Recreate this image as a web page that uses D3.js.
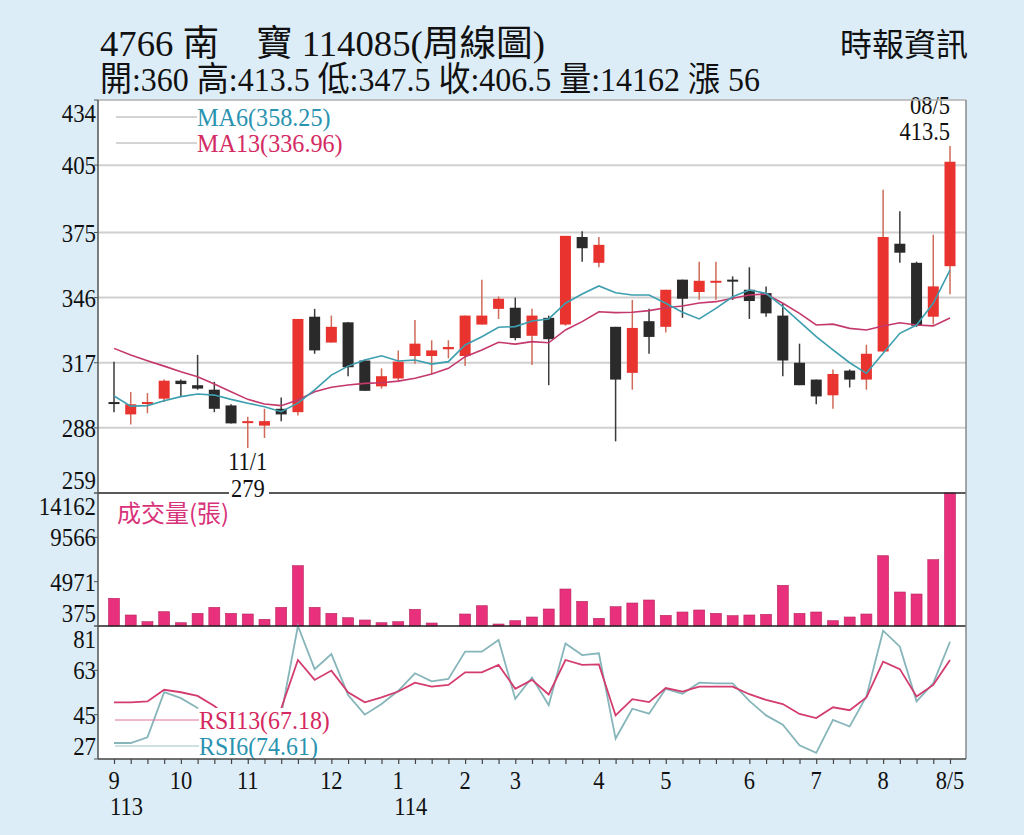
<!DOCTYPE html>
<html>
<head>
<meta charset="utf-8">
<script src="https://cdn.jsdelivr.net/npm/d3@7"></script>
<style>
body { margin: 0; background: #dcedf8; }
svg { display: block; }
text { font-family: "Liberation Serif", "Noto Sans CJK TC", serif; }
</style>
</head>
<body>
<div class="chart"></div>
<script>
// weekly bars, 113/9 .. 114/8/5
const opens  = [299.5, 294, 299, 301, 309, 307, 305, 298, 290.5, 289, 296.5, 295, 337.5, 326, 335, 318, 306.5, 310, 320, 320,
                323, 320, 334, 341, 341.5, 329, 337, 334, 373, 361.5, 333, 312.5, 335.5, 333, 354, 348.5, 353, 354, 349.5, 348,
                338, 317, 309.5, 302.5, 313.5, 309.5, 322, 370, 361.5, 337.5, 360];
const highs  = [317.5, 304, 303.5, 309.5, 309.5, 320.5, 308.5, 298.5, 293, 296.5, 301.5, 336.5, 341, 338, 335, 318.5, 314.5, 322.5, 336, 327,
                327, 338, 354, 346.5, 346, 341, 338, 373.5, 375.5, 373, 333, 345, 341, 349.5, 354, 362, 362, 355.5, 359.5, 351,
                343.5, 325.5, 309.5, 314, 314, 325, 394, 384.5, 362, 374, 413.5];
const lows   = [295, 289.5, 294.5, 299.5, 302, 305, 295, 290, 279, 283.5, 291, 293.5, 321, 326, 311, 304.5, 305.5, 309, 316.5, 312,
                319, 315.5, 334, 336.5, 327, 316, 307, 333.5, 362, 359.5, 282, 305, 321, 330.5, 337, 345, 345, 345, 336.5, 337.5,
                311, 307, 298.5, 296.5, 306, 305, 322, 361.5, 333, 334, 347.5];
const closes = [299, 298.5, 299.5, 309, 307.5, 305.5, 296.5, 290, 291, 291, 294, 336.5, 322.5, 333, 315, 304.5, 311, 317.5, 325.5, 322.5,
                324, 338, 338, 345.5, 328, 338, 327.5, 373.5, 368, 369.5, 309.5, 332.5, 328.5, 349.5, 345.5, 353.5, 353.5, 353.5, 344.5, 339,
                318, 307, 302, 312, 309.5, 321, 373, 366, 333.5, 351, 406.5];
const volumes = [3246, 1515, 821, 1857, 717, 1691, 2313, 1691, 1619, 1070, 2313, 6626, 2313, 1691, 1235, 997, 717, 821, 2106, 686,
                 375, 1619, 2479, 582, 924, 1308, 2137, 4210, 2935, 1173, 2376, 2759, 3070, 1484, 1826, 2034, 1691, 1443, 1515, 1588,
                 4594, 1691, 1826, 924, 1308, 1619, 7662, 3899, 3692, 7248, 14162];
const ma6  = [302.2, 297.7, 297.9, 300.1, 301.9, 303.1, 302.6, 300.7, 299.0, 297.4, 295.2, 299.0, 304.9, 311.5, 315.5, 318.2, 320.1, 317.8, 318.2, 316.4,
              317.5, 324.9, 328.6, 332.8, 333.1, 335.6, 336.5, 343.5, 347.6, 351.2, 348.2, 347.2, 347.2, 343.5, 339.5, 336.5, 341.2, 346.4, 349.4, 347.9,
              342.0, 335.3, 328.6, 322.7, 317.0, 312.3, 321.2, 330.1, 333.8, 343.5, 358.25];
const ma13 = [323.4, 320.4, 317.9, 315.5, 313.0, 310.8, 307.5, 304.1, 300.7, 298.6, 297.9, 300.4, 304.1, 306.1, 307.1, 307.8, 308.1, 308.8, 310.1, 312.0,
              314.5, 319.7, 322.7, 326.1, 325.3, 326.4, 325.9, 331.6, 335.3, 339.7, 339.3, 339.5, 340.2, 341.5, 342.3, 343.6, 344.2, 345.7, 347.2, 347.6,
              343.5, 339.0, 333.8, 334.2, 332.3, 331.6, 333.4, 334.8, 333.8, 333.4, 336.96];
const rsi6  = [33.5, 33.5, 35.8, 54.1, 51.7, 47.7, 44, 33, 27, 31, 45, 81, 63.5, 69.6, 53.0, 45.0, 49.3, 54.7, 61.8, 58.5,
               59.5, 70.6, 70.6, 75.3, 51.4, 60.1, 48.8, 73.9, 69.2, 69.9, 35.3, 47.4, 45.4, 55.5, 53.5, 58.0, 57.7, 57.7, 50.6, 44.7,
               40.9, 32.6, 29.5, 42.9, 40.2, 52.4, 79.1, 72.6, 50.4, 57.8, 74.61];
const rsi13 = [50.0, 50.0, 50.4, 55.1, 54.1, 52.6, 48.5, 43, 40, 42, 47.5, 67.2, 59.1, 62.9, 54.1, 50.0, 52.0, 54.4, 58.0, 56.4,
               57.1, 62.2, 62.2, 65.2, 55.5, 59.1, 53.2, 67.2, 65.2, 65.4, 44.7, 51.3, 50.1, 55.8, 54.4, 56.4, 56.4, 56.4, 53.3, 51.0,
               49.3, 45.3, 43.6, 48.0, 46.8, 52.0, 66.5, 63.5, 52.4, 57.1, 67.18];

const monthIdx    = [0, 4, 8, 13, 17, 21, 24, 29, 33, 38, 42, 46, 50];
const monthLabels = ["9", "10", "11", "12", "1", "2", "3", "4", "5", "6", "7", "8", "8/5"];
const yearIdx     = [0, 17];
const yearLabels  = ["113", "114"];
const priceTicks = [434, 405, 375, 346, 317, 288, 259];
const volTicks   = [14162, 9566, 4971, 375];
const rsiTicks   = [81, 63, 45, 27];

const W = 1024, H = 835;
let frame = {left: 98, right: 966, top: 100, price: 493, vol: 626, bottom: 759};
let upColor = "#e8332e", downColor = "#2a2a2a";

let svg = d3.select(".chart").append("svg")
    .attr("width", W)
    .attr("height", H);

svg.append("rect").attr("width", W).attr("height", H).attr("fill", "#dcedf8");
svg.append("rect")
    .attr("x", frame.left).attr("y", frame.top)
    .attr("width", frame.right - frame.left)
    .attr("height", frame.bottom - frame.top)
    .attr("fill", "#fff");

const xScale = d3.scaleLinear().domain([0, closes.length - 1]).range([114, 950]);
const yPrice = d3.scaleLinear().domain([259, 434]).range([frame.price, frame.top]);
const yVol   = d3.scaleLinear().domain([375, 14162]).range([frame.vol, frame.price]);
const yRsi   = d3.scaleLinear().domain([27, 81]).range([frame.bottom, frame.vol]);

// narrow serif look: scale glyphs horizontally around the anchor
function ntext(parent, x, y, str, size, sx, anchor) {
    return parent.append("text")
        .attr("transform", `translate(${x}, ${y}) scale(${sx}, 1)`)
        .attr("dy", "0.35em")
        .attr("text-anchor", anchor || "start")
        .attr("font-size", size)
        .attr("fill", "#111")
        .text(str);
}

// header
svg.append("text").attr("x", 100).attr("y", 56)
    .attr("font-size", 36).attr("textLength", 445).attr("lengthAdjust", "spacingAndGlyphs")
    .attr("fill", "#111")
    .text("4766 南　寶 114085(周線圖)");
svg.append("text").attr("x", 100).attr("y", 91)
    .attr("font-size", 34).attr("textLength", 660).attr("lengthAdjust", "spacingAndGlyphs")
    .attr("fill", "#111")
    .text("開:360 高:413.5 低:347.5 收:406.5 量:14162 漲 56");
svg.append("text").attr("x", 968).attr("y", 56)
    .attr("font-size", 32).attr("text-anchor", "end")
    .style("font-family", "'Noto Sans CJK TC'")
    .attr("fill", "#111")
    .text("時報資訊");

// price grid
svg.append("g").selectAll("line")
    .data(priceTicks.slice(1, -1))
    .join("line")
    .attr("x1", frame.left).attr("x2", frame.right)
    .attr("y1", d => yPrice(d)).attr("y2", d => yPrice(d))
    .attr("stroke", "#d0d0d0").attr("stroke-width", 2);

// candles
let candles = closes.map((c, i) => ({i: i, o: opens[i], h: highs[i], l: lows[i], c: c}));
let cg = svg.append("g");
cg.selectAll("line")
    .data(candles)
    .join("line")
    .attr("x1", d => xScale(d.i)).attr("x2", d => xScale(d.i))
    .attr("y1", d => yPrice(d.h)).attr("y2", d => yPrice(d.l))
    .attr("stroke", d => d.c > d.o ? "#cf6a58" : "#3a3a3a")
    .attr("stroke-width", 1.5);
cg.selectAll("rect")
    .data(candles)
    .join("rect")
    .attr("x", d => xScale(d.i) - 5.5)
    .attr("width", 11)
    .attr("y", d => yPrice(Math.max(d.o, d.c)))
    .attr("height", d => Math.max(2, Math.abs(yPrice(d.o) - yPrice(d.c))))
    .attr("fill", d => d.c > d.o ? upColor : downColor);

// moving averages
let line = d3.line().x((d, i) => xScale(i));
svg.append("path").datum(ma13)
    .attr("fill", "none").attr("stroke", "#c4386c").attr("stroke-width", 1.6)
    .attr("d", line.y(d => yPrice(d)));
svg.append("path").datum(ma6)
    .attr("fill", "none").attr("stroke", "#3c9eae").attr("stroke-width", 1.6)
    .attr("d", line.y(d => yPrice(d)));

// MA legend
[["MA6(358.25)", "#2a93b0", 117], ["MA13(336.96)", "#d42a63", 143]].forEach(function(l) {
    svg.append("line").attr("x1", 116).attr("x2", 197).attr("y1", l[2]).attr("y2", l[2])
        .attr("stroke", "#a8a8a8").attr("stroke-width", 1);
    ntext(svg, 197, l[2], l[0], 26, 0.93).attr("fill", l[1]);
});

// last bar note
ntext(svg, 950, 105, "08/5", 25, 0.9, "end");
ntext(svg, 950, 131, "413.5", 25, 0.9, "end");

// volume
svg.append("g").selectAll("rect")
    .data(volumes)
    .join("rect")
    .attr("x", (d, i) => xScale(i) - 5.5)
    .attr("width", 11)
    .attr("y", d => yVol(d))
    .attr("height", d => frame.vol - yVol(d))
    .attr("fill", "#e8307c")
    .attr("stroke", "#b8275f").attr("stroke-width", 0.6);
svg.append("text").attr("x", 117).attr("y", 514).attr("dy", "0.35em")
    .attr("font-size", 24).attr("fill", "#d8327a")
    .style("font-family", "'Noto Sans CJK TC'")
    .text("成交量(張)");

// RSI
svg.append("path").datum(rsi6)
    .attr("fill", "none").attr("stroke", "#86b5ba").attr("stroke-width", 1.8)
    .attr("d", line.y(d => yRsi(d)));
svg.append("path").datum(rsi13)
    .attr("fill", "none").attr("stroke", "#d23c6e").attr("stroke-width", 1.8)
    .attr("d", line.y(d => yRsi(d)));
svg.append("rect").attr("x", 198).attr("y", 708).attr("width", 142).attr("height", 50).attr("fill", "#fff");
[["RSI13(67.18)", "#d4285f", "#e07098", 720], ["RSI6(74.61)", "#2a93b0", "#9cc2c6", 746]].forEach(function(l) {
    svg.append("line").attr("x1", 115).attr("x2", 199).attr("y1", l[3]).attr("y2", l[3])
        .attr("stroke", l[2]).attr("stroke-width", 1);
    ntext(svg, 199, l[3], l[0], 26, 0.92).attr("fill", l[1]);
});

// low note
ntext(svg, xScale(8), 461, "11/1", 25, 0.9, "middle");

// frame lines
svg.append("line").attr("x1", frame.left).attr("x2", frame.right).attr("y1", frame.top).attr("y2", frame.top)
    .attr("stroke", "#b0b0b0").attr("stroke-width", 1.5);
[frame.price, frame.vol].forEach(function(y) {
    svg.append("line").attr("x1", frame.left).attr("x2", frame.right).attr("y1", y).attr("y2", y)
        .attr("stroke", "#222").attr("stroke-width", 1.5);
});
svg.append("line").attr("x1", frame.right).attr("x2", frame.right).attr("y1", frame.top).attr("y2", frame.bottom)
    .attr("stroke", "#8a8a8a").attr("stroke-width", 1.5);
svg.append("line").attr("x1", frame.left).attr("x2", frame.left).attr("y1", frame.top).attr("y2", frame.bottom)
    .attr("stroke", "#555").attr("stroke-width", 1.5);

// 279 sits on the panel line with a knock-out behind it
svg.append("rect").attr("x", 229).attr("y", 479).attr("width", 40).attr("height", 18).attr("fill", "#fff");
ntext(svg, xScale(8), 488, lows[8], 25, 0.9, "middle");

// x axis
let xAxis = svg.append("g")
    .attr("transform", `translate(0, ${frame.bottom})`)
    .call(d3.axisBottom(xScale).tickValues(d3.range(closes.length)).tickSize(5).tickFormat(""));
xAxis.select(".domain").remove();
xAxis.selectAll(".tick line").attr("stroke", "#444").attr("stroke-width", 1.2);
svg.append("line").attr("x1", frame.left).attr("x2", frame.right).attr("y1", frame.bottom).attr("y2", frame.bottom)
    .attr("stroke", "#444").attr("stroke-width", 1.5);

let xl = svg.append("g");
monthIdx.forEach(function(d, i) {
    ntext(xl, xScale(d), 780, monthLabels[i], 25, 0.9, "middle");
});
yearIdx.forEach(function(d, i) {
    ntext(xl, xScale(d) - 4, 806, yearLabels[i], 25, 0.9);
});

// left labels, kept inside their panel
function leftLabels(ticks, scale, top, bottom) {
    let g = svg.append("g");
    g.selectAll("line")
        .data(ticks)
        .join("line")
        .attr("x1", frame.left - 4).attr("x2", frame.left)
        .attr("y1", d => scale(d)).attr("y2", d => scale(d))
        .attr("stroke", "#555");
    ticks.forEach(function(d) {
        ntext(g, frame.left - 2, Math.min(bottom - 13, Math.max(top + 13, scale(d))), d, 26, 0.88, "end");
    });
}
leftLabels(priceTicks, yPrice, frame.top, frame.price);
leftLabels(volTicks, yVol, frame.price, frame.vol);
leftLabels(rsiTicks, yRsi, frame.vol, frame.bottom);
</script>
</body>
</html>
